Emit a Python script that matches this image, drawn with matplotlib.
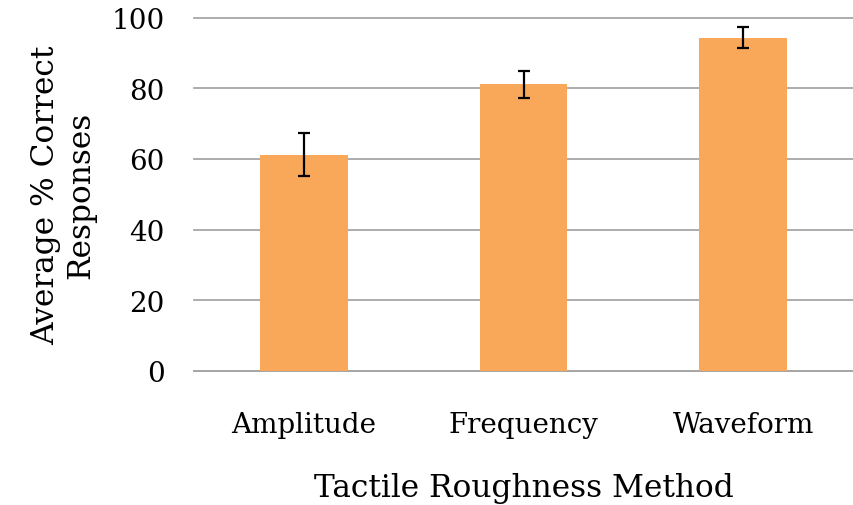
import matplotlib.pyplot as plt

categories = ["Amplitude", "Frequency", "Waveform"]
means = [61.2, 81.2, 94.3]
errors = [6.1, 3.8, 3.0]
y_ticks = [0, 20, 40, 60, 80, 100]

plt.rcParams["font.family"] = ["DejaVu Serif"]

fig = plt.figure(figsize=(8.54, 5.06), dpi=100)
ax = fig.add_axes([0.227, 0.265, 0.772, 0.698])

x = range(len(categories))
ax.bar(x, means, width=0.4, color="#F9A85A", zorder=3,
       yerr=errors, error_kw=dict(ecolor="black", elinewidth=1.6, capsize=4.5, capthick=1.6, zorder=4))

ax.set_xlim(-0.5, 2.5)
ax.set_ylim(0, 100)
ax.set_yticks(y_ticks)
ax.set_xticks(list(x))
ax.set_xticklabels(categories)
ax.yaxis.grid(True, color="#A6A6A6", linewidth=1.3, zorder=0)
for line in ax.get_ygridlines():
    line.set_clip_on(False)
for side in ["left", "right", "top"]:
    ax.spines[side].set_visible(False)
ax.spines["bottom"].set_color("#A6A6A6")
ax.spines["bottom"].set_linewidth(1.3)
ax.tick_params(axis="both", length=0, labelsize=20)
ax.tick_params(axis="x", pad=29)
ax.tick_params(axis="y", pad=21)

ax.set_xlabel("Tactile Roughness Method", fontsize=22.5, labelpad=24)
ax.set_ylabel("Average % Correct\nResponses", fontsize=22.5, labelpad=11, linespacing=1.15)

fig.savefig("out.png", dpi=100)
